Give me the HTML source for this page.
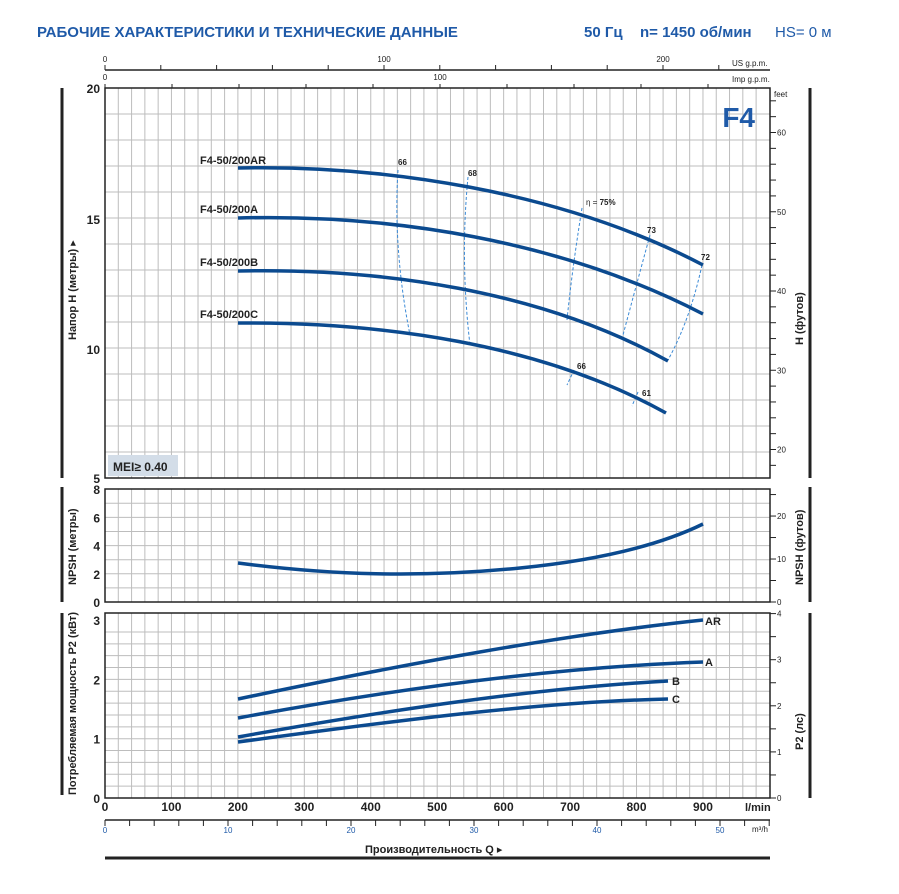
<!DOCTYPE html>
<html><head><meta charset="utf-8"><style>
body{margin:0;background:#fff;}
svg{display:block;font-family:"Liberation Sans","DejaVu Sans",sans-serif;}
</style></head><body>
<svg id="s" width="899" height="894" viewBox="0 0 899 894" xmlns="http://www.w3.org/2000/svg">
<rect width="899" height="894" fill="#fff"/>
<text x="37" y="37" font-size="15" font-weight="bold" fill="#1f5aa8">РАБОЧИЕ ХАРАКТЕРИСТИКИ И ТЕХНИЧЕСКИЕ ДАННЫЕ</text>
<text x="584" y="37" font-size="15" font-weight="bold" fill="#1f5aa8">50 Гц</text>
<text x="640" y="37" font-size="15" font-weight="bold" fill="#1f5aa8">n= 1450 об/мин</text>
<text x="775" y="37" font-size="15" fill="#1f5aa8">HS= 0 м</text>
<g id="grid" stroke="#bdbdbd" stroke-width="1"></g>
<g id="axes" stroke="#222" fill="none"></g>
<g id="lbl" font-size="10" fill="#222"></g>
<!-- frames -->
<g fill="none" stroke="#222" stroke-width="1.5">
<rect x="105" y="88" width="665" height="390"/>
<rect x="105" y="489" width="665" height="113"/>
<rect x="105" y="613" width="665" height="185"/>
</g>
<g stroke="#222" stroke-width="3">
<line x1="62" y1="88" x2="62" y2="478"/><line x1="62" y1="487" x2="62" y2="602"/><line x1="62" y1="613" x2="62" y2="795"/>
<line x1="810" y1="88" x2="810" y2="478"/><line x1="810" y1="487" x2="810" y2="602"/><line x1="810" y1="613" x2="810" y2="798"/>
<line x1="105" y1="858" x2="770" y2="858"/>
</g>
<text x="755" y="127" font-size="28" font-weight="bold" fill="#1f5aa8" text-anchor="end">F4</text>
<rect x="108" y="455" width="70" height="21" fill="#d3dde8"/>
<text x="113" y="471" font-size="12" font-weight="bold" fill="#222">MEI≥ 0.40</text>
<!-- efficiency dashed -->
<g stroke="#3b8ad6" stroke-width="1" stroke-dasharray="3,2" fill="none">
<path d="M398,170 Q393,250 410,335"/>
<path d="M468,177 Q460,260 470,345"/>
<path d="M582,208 Q572,270 567,320"/>
<path d="M650,235 Q635,290 623,335"/>
<path d="M702,265 Q690,320 668,360"/>
<path d="M574,370 L567,385"/>
<path d="M638,392 L632,406"/>
</g>
<g stroke="#0b4a8f" stroke-width="3.5" fill="none" stroke-linecap="butt">
<path d="M238,168 C380,165 560,190 703,265"/>
<path d="M238,218 C390,214 560,240 703,314"/>
<path d="M238,271 C380,268 540,290 668,361"/>
<path d="M238,323 C380,322 540,343 666,413"/>
<path d="M238,563 C330,575 420,578 520,568 C600,560 660,545 703,524"/>
<path d="M238,699 C400,665 560,635 703,620"/>
<path d="M238,718 C400,688 560,667 703,662"/>
<path d="M238,737 C400,708 540,688 668,681"/>
<path d="M238,742 C400,720 540,702 668,699"/>
</g>
<g font-size="11" font-weight="bold" fill="#222">
<text x="200" y="164">F4-50/200AR</text>
<text x="200" y="213">F4-50/200A</text>
<text x="200" y="266">F4-50/200B</text>
<text x="200" y="318">F4-50/200C</text>
<text x="705" y="625">AR</text><text x="705" y="666">A</text><text x="672" y="685">B</text><text x="672" y="703">C</text>
</g>
<g font-size="8" font-weight="bold" fill="#222">
<text x="398" y="165">66</text><text x="468" y="176">68</text>
<text x="586" y="205"><tspan font-weight="normal">η = </tspan>75%</text>
<text x="647" y="233">73</text><text x="701" y="260">72</text>
<text x="577" y="369">66</text><text x="642" y="396">61</text>
</g>
<g font-size="11" font-weight="bold" fill="#222">
<text transform="translate(76,340) rotate(-90)">Напор H (метры) ▸</text>
<text transform="translate(76,585) rotate(-90)">NPSH (метры)</text>
<text transform="translate(76,795) rotate(-90)">Потребляемая мощность P2 (кВт)</text>
<text transform="translate(803,345) rotate(-90)">H (футов)</text>
<text transform="translate(803,585) rotate(-90)">NPSH (футов)</text>
<text transform="translate(803,750) rotate(-90)">P2 (лс)</text>
<text x="365" y="853">Производительность Q ▸</text>
<text x="745" y="811">l/min</text>
</g>
<text x="732" y="66" font-size="8" fill="#222">US g.p.m.</text>
<text x="732" y="82" font-size="8" fill="#222">Imp g.p.m.</text>
<text x="774" y="97" font-size="8" fill="#222">feet</text>
<text x="752" y="832" font-size="8" fill="#222">m³/h</text>
</svg>
<script>
var NS="http://www.w3.org/2000/svg",g=document.getElementById('grid'),ax=document.getElementById('axes'),lb=document.getElementById('lbl');
function L(p,x1,y1,x2,y2,w){var e=document.createElementNS(NS,'line');e.setAttribute('x1',x1);e.setAttribute('y1',y1);e.setAttribute('x2',x2);e.setAttribute('y2',y2);if(w)e.setAttribute('stroke-width',w);p.appendChild(e);}
function T(x,y,t,a,fs,b,c){var e=document.createElementNS(NS,'text');e.setAttribute('x',x);e.setAttribute('y',y);e.setAttribute('text-anchor',a||'middle');e.setAttribute('font-size',fs||10);if(b)e.setAttribute('font-weight','bold');if(c)e.setAttribute('fill',c);e.textContent=t;lb.appendChild(e);}
var k=0.6644;
for(var q=20;q<1000;q+=20){var x=105+q*k;L(g,x,88,x,478);L(g,x,489,x,602);L(g,x,613,x,798);}
for(var y=88+26;y<478;y+=26)L(g,105,y,770,y);
for(var n=1;n<8;n++){var y=602-n*14.1;L(g,105,y,770,y);}
for(var p=1;p<15;p++){var y=798-p*11.86;L(g,105,y,770,y);}
// main left labels
[[20,88],[15,219],[10,349],[5,478]].forEach(function(a){T(100,a[1]+5,a[0],'end',12,1);});
[8,6,4,2,0].forEach(function(n){T(100,602-n*14.1+5,n,'end',12,1);});
[3,2,1,0].forEach(function(p){T(100,798-p*59.3+5,p,'end',12,1);});
for(var q=0;q<=900;q+=100)T(105+q*k,811,q,'middle',12,1);
// US gpm
L(ax,105,70,770,70,1.5);
for(var u=0;u*2.79+105<=770;u+=20){var x=105+u*2.79;L(ax,x,70,x,65);}
T(105,62,'0','middle',8);T(384,62,'100','middle',8);T(663,62,'200','middle',8);
for(var u=0;u*3.35+105<=770;u+=20){var x=105+u*3.35;L(ax,x,88,x,84);}
T(105,80,'0','middle',8);T(440,80,'100','middle',8);
// m3/h
L(ax,105,820,770,820,1.5);
for(var m=0;m*12.3+105<=770;m+=2){var x=105+m*12.3;L(ax,x,820,x,826);}
[0,10,20,30,40,50].forEach(function(m){T(105+m*12.3,833,m,'middle',8,0,'#1f5aa8');});
// feet
for(var f=18;f<=68;f+=2){var y=88+(20-f*0.3048)*26;if(y>88&&y<478)L(ax,770,y,776,y);}
[60,50,40,30,20].forEach(function(f){T(777,88+(20-f*0.3048)*26+3,f,'start',8);});
for(var f=0;f<=25;f+=5){var y=602-f*0.3048*14.1;L(ax,770,y,776,y);}
[20,10,0].forEach(function(f){T(777,602-f*0.3048*14.1+3,f,'start',8);});
for(var h=0;h<=4;h+=0.5){var y=798-h*46.1;L(ax,770,y,776,y);}
[4,3,2,1,0].forEach(function(h){T(777,798-h*46.1+3,h,'start',8);});
</script>
</body></html>
